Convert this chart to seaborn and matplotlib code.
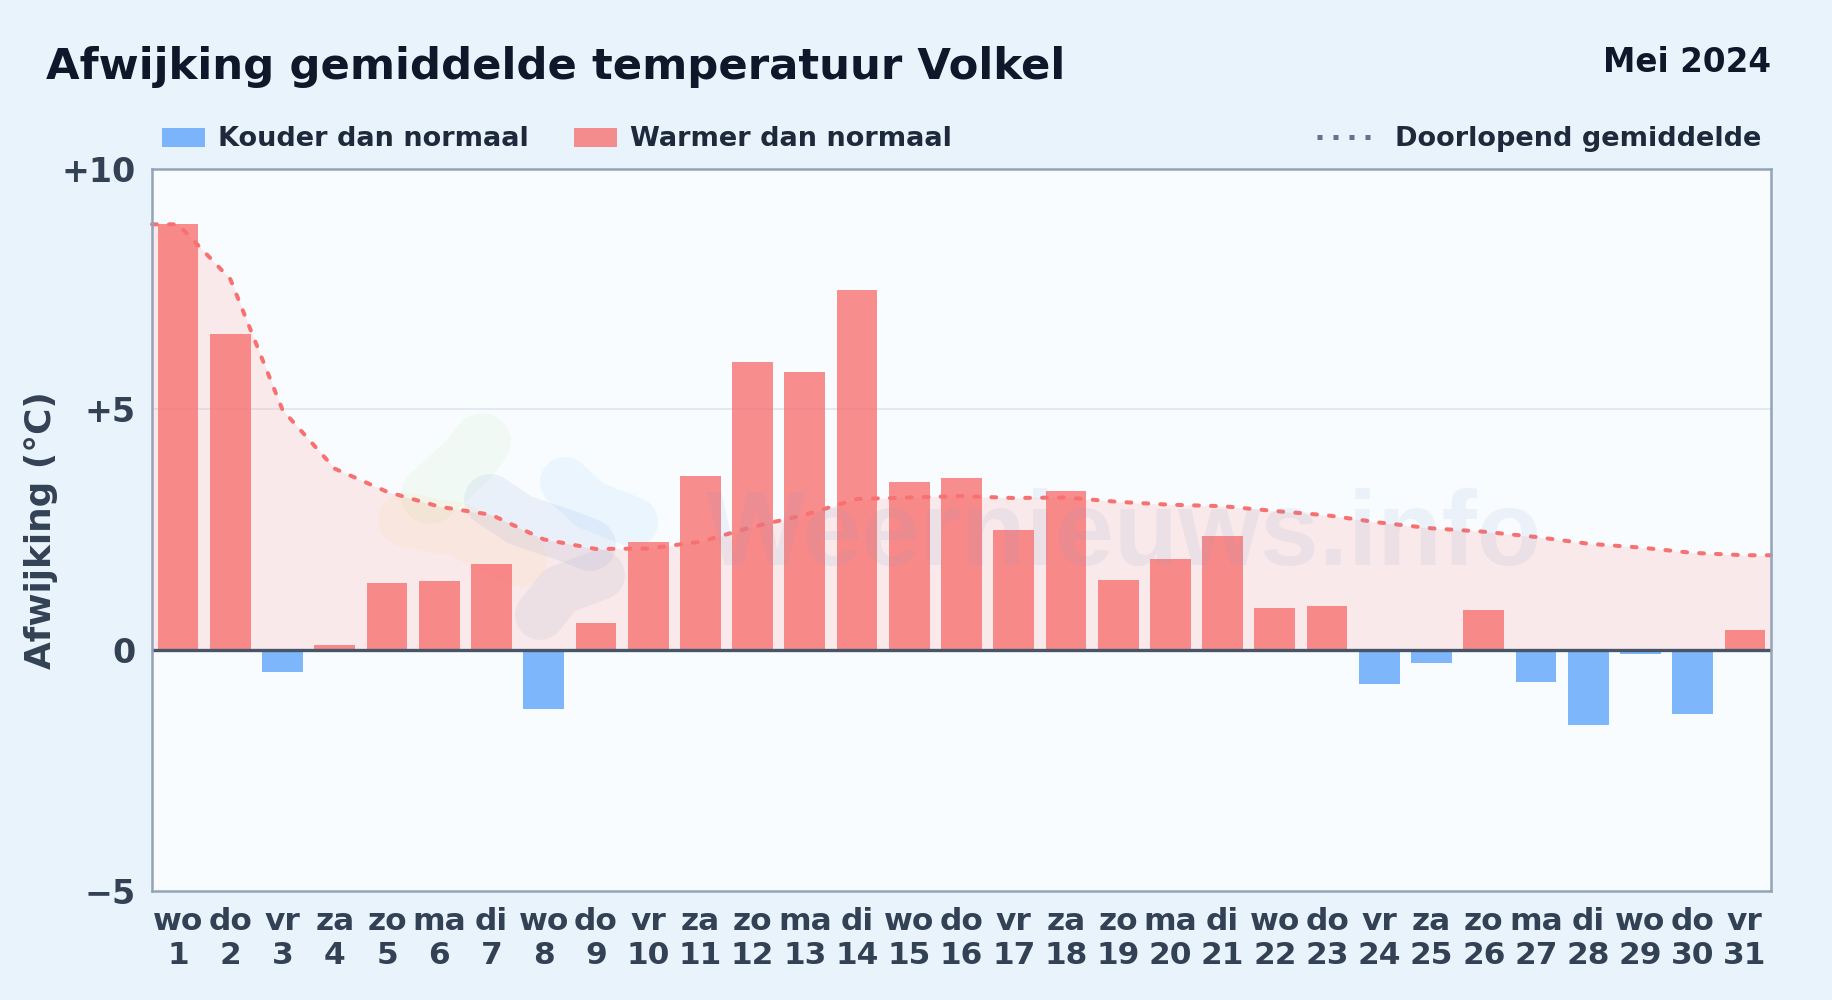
import numpy as np
import pandas as pd
import seaborn as sns
import matplotlib.pyplot as plt
from matplotlib.lines import Line2D
from matplotlib.patches import Patch

# Data
weekdays = ['wo', 'do', 'vr', 'za', 'zo', 'ma', 'di', 'wo', 'do', 'vr', 'za', 'zo', 'ma', 'di', 'wo', 'do',
            'vr', 'za', 'zo', 'ma', 'di', 'wo', 'do', 'vr', 'za', 'zo', 'ma', 'di', 'wo', 'do', 'vr']
days = list(range(1, 32))
anomaly = [8.85, 6.57, -0.46, 0.10, 1.39, 1.43, 1.78, -1.22, 0.56, 2.24, 3.62, 5.98, 5.79, 7.49, 3.50, 3.58,
           2.50, 3.31, 1.46, 1.90, 2.38, 0.88, 0.92, -0.71, -0.27, 0.83, -0.66, -1.56, -0.08, -1.34, 0.41]
running_mean = [8.85, 7.71, 4.99, 3.77, 3.29, 2.98, 2.81, 2.30, 2.10, 2.11, 2.25, 2.56, 2.81, 3.14, 3.17, 3.20,
                3.16, 3.17, 3.08, 3.02, 2.99, 2.89, 2.80, 2.65, 2.53, 2.46, 2.35, 2.21, 2.13, 2.02, 1.97]
y_ticks = [-5, 0, 5, 10]
y_tick_labels = ['\u22125', '0', '+5', '+10']

COLD = '#60a5fa'
WARM = '#f87171'
BG = '#e8f3fc'
W, H = 1832, 1000

sns.set_theme(style='white')
plt.rcParams['font.family'] = ['DejaVu Sans']
plt.rcParams['font.weight'] = 'bold'

df = pd.DataFrame({'pos': range(31), 'day': days, 'anomaly': anomaly, 'mean': running_mean})
df['kind'] = np.where(df['anomaly'] < 0, 'Kouder dan normaal', 'Warmer dan normaal')

fig = plt.figure(figsize=(W / 100, H / 100), dpi=100, facecolor=BG)
ax = fig.add_axes([152 / W, 1 - 890.5 / H, 1619 / W, 721.5 / H], facecolor='#f8fcff')

# running mean band, runs on to both plot edges
line_x = np.r_[-0.5, df['pos'], 30.5]
line_y = np.r_[running_mean[0], running_mean, running_mean[-1]]
ax.fill_between(line_x, 0, line_y, color='#fda4a4', alpha=0.21, lw=0, zorder=1)

sns.barplot(data=df, x='pos', y='anomaly', hue='kind', dodge=False, width=0.78, ax=ax, legend=False,
            palette={'Kouder dan normaal': COLD, 'Warmer dan normaal': WARM},
            hue_order=['Kouder dan normaal', 'Warmer dan normaal'],
            alpha=0.8, linewidth=0, saturation=1, zorder=2)
ax.plot(line_x, line_y, color=WARM, linewidth=2.9, zorder=3, clip_on=False,
        linestyle=(0, (1.2, 3.0)), dash_capstyle='round')

ax.set_xlim(-0.5, 30.5)
ax.set_ylim(-5, 10)
ax.axhline(5, color='#e2e8f0', lw=1.3, zorder=0)
ax.axhline(0, color='#475569', lw=2.4, zorder=4)

ax.set_yticks(y_ticks, y_tick_labels)
ax.set_xticks(range(31), [f'{d}\n{n}' for d, n in zip(weekdays, days)], linespacing=1.22)
ax.tick_params(axis='y', length=0, labelsize=24, labelcolor='#334155', pad=12)
ax.tick_params(axis='x', length=0, labelsize=22.5, labelcolor='#334155', pad=12)
ax.set_ylabel('Afwijking (°C)', fontsize=25.8, color='#334155', fontweight='bold', labelpad=2)
ax.set_xlabel('')
for s in ax.spines.values():
    s.set_color('#94a3b8')
    s.set_linewidth(1.8)
    s.set_zorder(5)

# watermark: logo blobs, pixel coordinates of the figure
logo = [
    ([482, 470, 430], [442, 458, 495], 58, '#a3e080', 0.08),
    ([405, 460, 520], [520, 530, 560], 54, '#fbbf24', 0.06),
    ([490, 520, 570, 590], [500, 520, 537, 545], 52, '#6b8fc8', 0.10),
    ([565, 590, 633], [482, 505, 522], 50, '#60b5fa', 0.09),
    ([600, 560, 540], [575, 590, 615], 50, '#6b7fa8', 0.08),
]
for lx, ly, lw_px, lc, la in logo:
    ax.plot(np.array(lx) / W, 1 - np.array(ly) / H, transform=fig.transFigure, color=lc, alpha=la,
            lw=lw_px * 0.72, solid_capstyle='round', solid_joinstyle='round', zorder=1.5)

ax.text(1124 / W, 1 - 565 / H, 'Weernieuws.info', transform=fig.transFigure, fontsize=76, color='#7c93c8',
        alpha=0.10, ha='center', va='baseline', family='Liberation Sans', fontweight='bold', zorder=3.5)

# header
fig.text(46 / W, 1 - 67 / H, 'Afwijking gemiddelde temperatuur Volkel', fontsize=31.2, color='#0f172a',
         va='center', ha='left', fontweight='bold')
fig.text(1771 / W, 1 - 62 / H, 'Mei 2024', fontsize=23.5, color='#0f172a', va='center', ha='right',
         fontweight='bold')

# legends
left_handles = [Patch(color=COLD, alpha=0.8, lw=0, label='Kouder dan normaal'),
                Patch(color=WARM, alpha=0.8, lw=0, label='Warmer dan normaal')]
fig.legend(handles=left_handles, loc='center left', bbox_to_anchor=(162 / W, 1 - 139.5 / H), ncol=2, frameon=False,
           fontsize=19.5, labelcolor='#1e293b', handlelength=1.6, handleheight=0.7, handletextpad=0.47,
           columnspacing=1.65, borderpad=0, borderaxespad=0)
right_handles = [Line2D([], [], color='#64748b', lw=3.6, linestyle=(0, (1, 2.2)), label='Doorlopend gemiddelde')]
fig.legend(handles=right_handles, loc='center right', bbox_to_anchor=(1761 / W, 1 - 139.5 / H), frameon=False,
           fontsize=19.5, labelcolor='#1e293b', handlelength=2.0, handletextpad=0.85, borderpad=0, borderaxespad=0)

fig.savefig('out.png', dpi=100, facecolor=BG)
